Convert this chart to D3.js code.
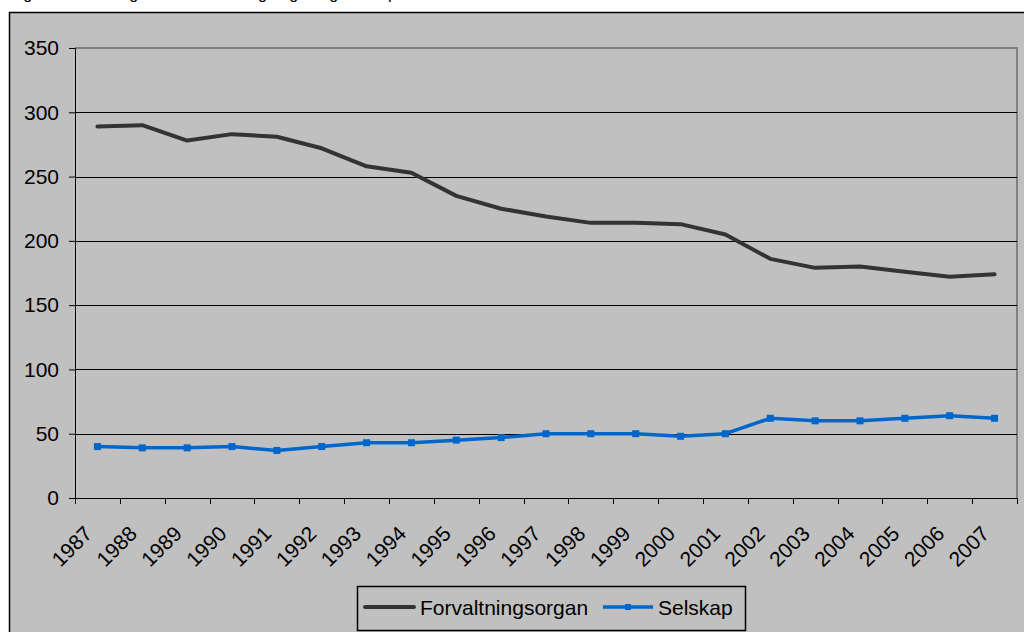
<!DOCTYPE html>
<html>
<head>
<meta charset="utf-8">
<script src="https://cdn.jsdelivr.net/npm/d3@7"></script>
<style>
  html, body { margin: 0; padding: 0; background: #ffffff; }
  svg { display: block; font-family: Arial, "Liberation Sans", sans-serif; }
</style>
</head>
<body>
<svg id="chart" width="1024" height="632"></svg>
<script>
  // data
  const years = ["1987", "1988", "1989", "1990", "1991", "1992", "1993", "1994", "1995", "1996",
    "1997", "1998", "1999", "2000", "2001", "2002", "2003", "2004", "2005", "2006", "2007"];
  const forvaltningsorgan = [289, 290, 278, 283, 281, 272, 258, 253, 235, 225,
    219, 214, 214, 213, 205, 186, 179, 180, 176, 172, 174];
  const selskap = [40, 39, 39, 40, 37, 40, 43, 43, 45, 47,
    50, 50, 50, 48, 50, 62, 60, 60, 62, 64, 62];
  const yTicks = [0, 50, 100, 150, 200, 250, 300, 350];

  const svg = d3.select("#chart");

  // cropped title above the chart frame
  svg.append("text")
    .attr("x", 10)
    .attr("y", -1)
    .style("font-size", "16px")
    .text("Figur 2.1 Utvikling i antall forvaltningsorgan og selskap 1987–2007");

  // chart area
  svg.append("rect")
    .attr("x", 9.5).attr("y", 12.5)
    .attr("width", 1100).attr("height", 700)
    .attr("fill", "#c0c0c0")
    .attr("stroke", "#000").attr("stroke-width", 1.5);

  const plotLeft = 75, plotRight = 1017, plotTop = 48, plotBottom = 498;

  const x = d3.scaleBand().domain(years).range([plotLeft, plotRight]);
  const y = d3.scaleLinear().domain([0, 350]).range([plotBottom, plotTop]);

  // plot border (gray) top + right
  svg.append("path")
    .attr("d", `M${plotLeft},${plotTop}H${plotRight}V${plotBottom}`)
    .attr("fill", "none")
    .attr("stroke", "#808080")
    .attr("stroke-width", 2);

  // gridlines
  svg.append("g")
    .selectAll("line")
    .data(yTicks.filter((d) => d > 0 && d < 350))
    .join("line")
    .attr("x1", plotLeft).attr("x2", plotRight)
    .attr("y1", (d) => Math.round(y(d)) + 0.5)
    .attr("y2", (d) => Math.round(y(d)) + 0.5)
    .attr("stroke", "#000").attr("stroke-width", 1);

  // y axis
  const yAxis = svg.append("g")
    .attr("transform", `translate(${plotLeft},0)`)
    .call(d3.axisLeft(y).tickValues(yTicks).tickSize(6).tickPadding(10));
  yAxis.select(".domain").attr("stroke", "#000");
  yAxis.selectAll(".tick line").attr("stroke", "#000");
  yAxis.selectAll(".tick text")
    .style("font-size", "21px")
    .attr("fill", "#000");
  yAxis.attr("font-family", null).attr("font-size", null);

  // x axis: ticks on category boundaries
  const boundaries = years.map((d) => x(d)).concat([plotRight]);
  svg.append("line")
    .attr("x1", plotLeft).attr("x2", plotRight)
    .attr("y1", plotBottom + 0.5).attr("y2", plotBottom + 0.5)
    .attr("stroke", "#000");
  svg.append("g")
    .selectAll("line")
    .data(boundaries)
    .join("line")
    .attr("x1", (d) => Math.round(d) + 0.5)
    .attr("x2", (d) => Math.round(d) + 0.5)
    .attr("y1", plotBottom).attr("y2", plotBottom + 6)
    .attr("stroke", "#000");

  svg.append("g")
    .selectAll("text")
    .data(years)
    .join("text")
    .attr("transform", (d) => `translate(${x(d) + x.bandwidth() / 2 - 4},${plotBottom + 37}) rotate(-45)`)
    .attr("text-anchor", "end")
    .style("font-size", "21px")
    .text((d) => d);

  const cx = (i) => x(years[i]) + x.bandwidth() / 2;

  const line = d3.line()
    .x((d, i) => cx(i))
    .y((d) => y(d));

  svg.append("path")
    .datum(forvaltningsorgan)
    .attr("d", line)
    .attr("fill", "none")
    .attr("stroke", "#333333")
    .attr("stroke-width", 4)
    .attr("stroke-linejoin", "round")
    .attr("stroke-linecap", "round");

  svg.append("path")
    .datum(selskap)
    .attr("d", line)
    .attr("fill", "none")
    .attr("stroke", "#0066cc")
    .attr("stroke-width", 3.5)
    .attr("stroke-linejoin", "round");

  svg.append("g")
    .selectAll("rect")
    .data(selskap)
    .join("rect")
    .attr("x", (d, i) => cx(i) - 3.5)
    .attr("y", (d) => y(d) - 3.5)
    .attr("width", 7).attr("height", 7)
    .attr("fill", "#0066cc");

  // legend
  const legend = svg.append("g");
  legend.append("rect")
    .attr("x", 357.5).attr("y", 586.5)
    .attr("width", 388).attr("height", 44)
    .attr("fill", "#c0c0c0")
    .attr("stroke", "#000").attr("stroke-width", 1.5);
  legend.append("line")
    .attr("x1", 365).attr("x2", 414)
    .attr("y1", 607).attr("y2", 607)
    .attr("stroke", "#333333").attr("stroke-width", 4).attr("stroke-linecap", "round");
  legend.append("text")
    .attr("x", 420).attr("y", 615)
    .style("font-size", "21px")
    .text("Forvaltningsorgan");
  legend.append("line")
    .attr("x1", 603).attr("x2", 653)
    .attr("y1", 607).attr("y2", 607)
    .attr("stroke", "#0066cc").attr("stroke-width", 3.5);
  legend.append("rect")
    .attr("x", 625).attr("y", 604)
    .attr("width", 6).attr("height", 6)
    .attr("fill", "#0066cc");
  legend.append("text")
    .attr("x", 658).attr("y", 615)
    .style("font-size", "21px")
    .text("Selskap");
</script>
</body>
</html>
